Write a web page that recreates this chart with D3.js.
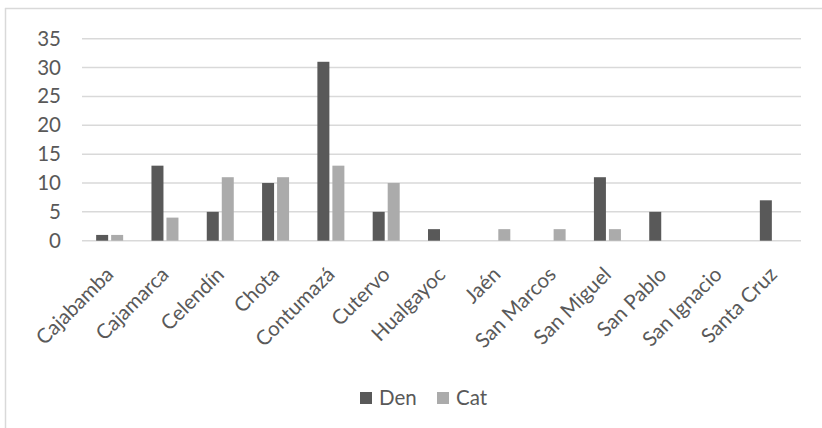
<!DOCTYPE html>
<html>
<head>
<meta charset="utf-8">
<script src="https://cdn.jsdelivr.net/npm/d3@7"></script>
<style>
  html, body { margin: 0; padding: 0; background: #ffffff; }
  svg { display: block; }
  text { font-family: Lato, "Liberation Sans", sans-serif; fill: #595959; }
</style>
</head>
<body>
<svg id="chart" width="822" height="428"></svg>
<script>
// Provinces of Cajamarca
const categories = ["Cajabamba", "Cajamarca", "Celendín", "Chota", "Contumazá", "Cutervo",
  "Hualgayoc", "Jaén", "San Marcos", "San Miguel", "San Pablo", "San Ignacio", "Santa Cruz"];
const seriesNames = ["Den", "Cat"];
const denValues = [1, 13, 5, 10, 31, 5, 2, 0, 0, 11, 5, 0, 7];
const catValues = [1, 4, 11, 11, 13, 10, 0, 2, 2, 2, 0, 0, 0];
const yTicks = [0, 5, 10, 15, 20, 25, 30, 35];
const colors = ["#595959", "#ababab"];

const rows = categories.map((c, i) => ({ name: c, Den: denValues[i], Cat: catValues[i] }));

const svg = d3.select("#chart");
const W = 822, H = 428;
const plot = { left: 82, right: 801, top: 38.7, bottom: 240.7 };

// chart area frame (top and left edges visible)
svg.append("line").attr("x1", 5).attr("x2", W).attr("y1", 8.5).attr("y2", 8.5)
  .attr("stroke", "#d9d9d9").attr("stroke-width", 1.5);
svg.append("line").attr("x1", 5.5).attr("x2", 5.5).attr("y1", 8).attr("y2", H)
  .attr("stroke", "#d9d9d9").attr("stroke-width", 1.5);

const x = d3.scaleBand().domain(categories).range([plot.left, plot.right]);
const y = d3.scaleLinear().domain([0, 35]).range([plot.bottom, plot.top]);

// horizontal gridlines
svg.append("g").selectAll("line").data(yTicks).join("line")
  .attr("x1", plot.left).attr("x2", plot.right)
  .attr("y1", d => y(d)).attr("y2", d => y(d))
  .attr("stroke", "#d9d9d9").attr("stroke-width", 1.5);

// y axis labels
const yAxis = d3.axisLeft(y).tickValues(yTicks).tickSize(0).tickPadding(0);
svg.append("g").attr("transform", `translate(${plot.left - 21},0)`).call(yAxis)
  .call(g => g.select(".domain").remove())
  .call(g => g.selectAll("text").attr("font-size", 20.5).attr("fill", "#595959")
    .style("font-family", "Lato, 'Liberation Sans', sans-serif"));

// bars
const barW = 12, gap = 3;
const sub = d3.scaleOrdinal().domain(seriesNames).range([-(gap / 2 + barW), gap / 2]);
const groups = svg.append("g").selectAll("g").data(rows).join("g")
  .attr("transform", d => `translate(${x(d.name) + x.bandwidth() / 2},0)`);
groups.selectAll("rect").data(d => seriesNames.map(k => ({ key: k, value: d[k] })))
  .join("rect")
  .attr("x", d => sub(d.key))
  .attr("width", barW)
  .attr("y", d => y(d.value))
  .attr("height", d => y(0) - y(d.value))
  .attr("fill", (d, i) => colors[i]);

// x axis labels, rotated
const xAxis = d3.axisBottom(x).tickSize(0).tickPadding(0);
svg.append("g").attr("transform", `translate(0,${plot.bottom})`).call(xAxis)
  .call(g => g.select(".domain").remove())
  .call(g => g.selectAll("text")
    .attr("font-size", 20.5).attr("fill", "#595959")
    .style("font-family", "Lato, 'Liberation Sans', sans-serif")
    .attr("text-anchor", "end")
    .attr("y", 0).attr("dy", "0.35em")
    .attr("transform", "translate(0,30) rotate(-45)"));

// legend
const legend = svg.append("g").attr("transform", "translate(360,392)");
const items = legend.selectAll("g").data(seriesNames).join("g")
  .attr("transform", (d, i) => `translate(${i * 77},0)`);
items.append("rect").attr("width", 12).attr("height", 12).attr("fill", (d, i) => colors[i]);
items.append("text").attr("x", 19).attr("y", 6).attr("dy", "0.36em")
  .attr("font-size", 20.5).text(d => d);
</script>
</body>
</html>
